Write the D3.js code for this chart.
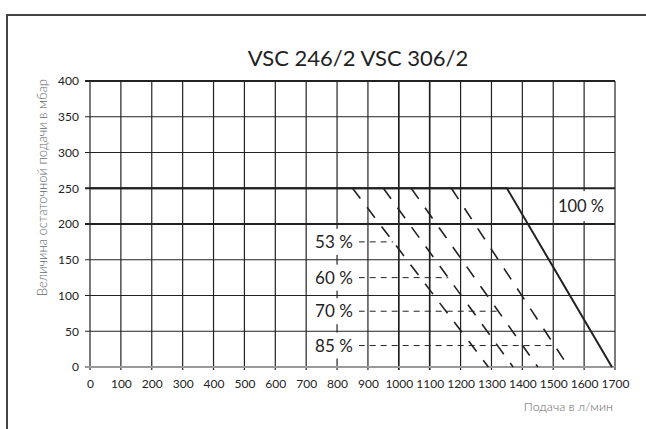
<!DOCTYPE html>
<html>
<head>
<meta charset="utf-8">
<script src="https://cdn.jsdelivr.net/npm/d3@7"></script>
<style>
  body { margin: 0; background: #fff; }
  svg { display: block; font-family: Lato, "Noto Sans", sans-serif; }
</style>
</head>
<body>
<svg width="646" height="429"></svg>
<script>
const xTicks = [0, 100, 200, 300, 400, 500, 600, 700, 800, 900, 1000, 1100, 1200, 1300, 1400, 1500, 1600, 1700];
const yTicks = [0, 50, 100, 150, 200, 250, 300, 350, 400];

// curves: flow (l/min) vs residual pressure (mbar)
const curveNames = ["53 %", "60 %", "70 %", "85 %"];
const curveFlow = [[850, 1290], [950, 1370], [1040, 1450], [1170, 1550]];
const curvePressure = [250, 0];
const leaderPressure = [175, 125, 78, 30];

const fullName = "100 %";
const fullFlow = [0, 1350, 1690];
const fullPressure = [250, 250, 0];

const svg = d3.select("svg");

const x = d3.scaleLinear().domain([0, 1700]).range([90, 615]);
const y = d3.scaleLinear().domain([0, 400]).range([367, 81]);

// outer frame
svg.append("path")
  .attr("d", "M7,429V15H646")
  .attr("fill", "none")
  .attr("stroke", "#444")
  .attr("stroke-width", 2);

// title
svg.append("text")
  .attr("x", 358).attr("y", 66)
  .attr("text-anchor", "middle")
  .attr("font-size", 22)
  .attr("fill", "#222")
  .text("VSC 246/2 VSC 306/2");

// grid
const grid = svg.append("g");
grid.selectAll(".v").data(xTicks).enter().append("line")
  .attr("x1", d => x(d)).attr("x2", d => x(d))
  .attr("y1", y(400)).attr("y2", y(0) + 3)
  .attr("stroke", "#222")
  .attr("stroke-width", d => (d == 1000 || d == 1100) ? 1.7 : 1.2);
grid.selectAll(".h").data(yTicks.filter(d => d > 0)).enter().append("line")
  .attr("x1", x(0) - 5).attr("x2", x(1700))
  .attr("y1", d => y(d)).attr("y2", d => y(d))
  .attr("stroke", "#222")
  .attr("stroke-width", d => (d == 400 || d == 250 || d == 200) ? 1.8 : 1.2);

// axis base line
svg.append("line")
  .attr("x1", x(0) - 5).attr("x2", x(1700))
  .attr("y1", y(0)).attr("y2", y(0))
  .attr("stroke", "#999").attr("stroke-width", 2);

// axes labels via d3 axes
const yAxis = svg.append("g")
  .attr("transform", "translate(" + x(0) + ",0)")
  .call(d3.axisLeft(y).tickValues(yTicks).tickSize(0).tickPadding(11));
const xAxis = svg.append("g")
  .attr("transform", "translate(0," + y(0) + ")")
  .call(d3.axisBottom(x).tickValues(xTicks).tickSize(0).tickPadding(12).tickFormat(d3.format("d")));
[yAxis, xAxis].forEach(a => {
  a.select(".domain").remove();
  a.selectAll("text").attr("font-size", 12).attr("fill", "#222").attr("font-family", "Lato, sans-serif");
});

svg.append("text")
  .attr("transform", "translate(47," + (y(400) - 2) + ") rotate(-90)")
  .attr("text-anchor", "end")
  .attr("font-size", 13)
  .attr("font-weight", 300)
  .attr("fill", "#666")
  .text("Величина остаточной подачи в мбар");

svg.append("text")
  .attr("x", x(1700) - 2).attr("y", 411)
  .attr("text-anchor", "end")
  .attr("font-size", 12.5)
  .attr("font-weight", 300)
  .attr("fill", "#666")
  .text("Подача в л/мин");

const line = d3.line().x(d => x(d[0])).y(d => y(d[1]));

// dashed partial-load curves
curveFlow.forEach((f, i) => {
  svg.append("path")
    .attr("d", line(d3.zip(f, curvePressure)))
    .attr("fill", "none")
    .attr("stroke", "#222")
    .attr("stroke-width", 1.6)
    .attr("stroke-dasharray", "13,11");
});

// 100% curve
svg.append("path")
  .attr("d", line(d3.zip(fullFlow, fullPressure)))
  .attr("fill", "none")
  .attr("stroke", "#222")
  .attr("stroke-width", 2);

// labels with leaders
const labelFlow = 790, leaderStart = 870;
curveNames.forEach((name, i) => {
  const p = leaderPressure[i];
  const f = curveFlow[i];
  const endFlow = f[0] + (f[1] - f[0]) * (250 - p) / 250;
  svg.append("line")
    .attr("x1", x(leaderStart)).attr("x2", x(endFlow))
    .attr("y1", y(p)).attr("y2", y(p))
    .attr("stroke", "#222").attr("stroke-width", 1)
    .attr("stroke-dasharray", "6,5");
  svg.append("rect")
    .attr("x", x(labelFlow) - 25).attr("y", y(p) - 13)
    .attr("width", 50).attr("height", 26)
    .attr("fill", "#fff");
  svg.append("text")
    .attr("x", x(labelFlow)).attr("y", y(p) + 6)
    .attr("text-anchor", "middle")
    .attr("font-size", 17)
    .attr("fill", "#222")
    .text(name);
});

svg.append("rect")
  .attr("x", x(1590) - 27).attr("y", y(225) - 15)
  .attr("width", 54).attr("height", 30)
  .attr("fill", "#fff");
svg.append("text")
  .attr("x", x(1590)).attr("y", y(225) + 6)
  .attr("text-anchor", "middle")
  .attr("font-size", 16.5)
  .attr("fill", "#222")
  .text(fullName);
</script>
</body>
</html>
